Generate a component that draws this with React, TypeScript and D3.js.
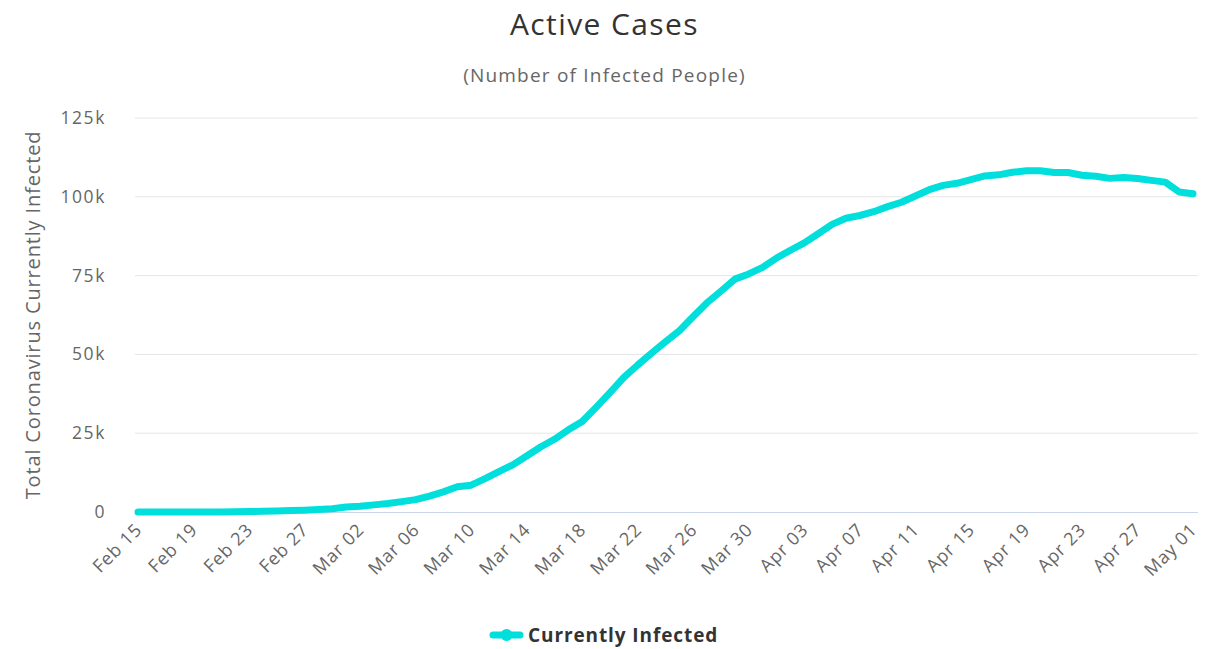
import React from "react";
import * as d3 from "d3";

const startDate = "2020-02-15";
const activeCases = [
  3, 3, 3, 3, 3, 3, 17, 76, 150, 221, 311, 438, 593, 821, 1049,
  1577, 1835, 2263, 2706, 3296, 3916, 5061, 6387, 7985, 8514, 10590, 12839, 14955, 17750, 20603,
  23073, 26062, 28710, 33190, 37860, 42681, 46638, 50418, 54030, 57521, 62013, 66414, 70065, 73880,
  75528, 77635, 80572, 83049, 85388, 88274, 91246, 93187, 94067, 95262, 96877, 98273, 100269,
  102253, 103616, 104291, 105418, 106607, 106962, 107771, 108257, 108237, 107709, 107699, 106848,
  106527, 105847, 106103, 105813, 105205, 104657, 101551, 100943,
];
const yTicks = [0, 25000, 50000, 75000, 100000, 125000];
const tickEveryDays = 4;

const W = 1211;
const H = 649;
const M = { left: 135, right: 1198, top: 118, bottom: 512 };
const FONT = "'Open Sans', 'DejaVu Sans', sans-serif";
const LINE = "#00dfdc";

export default function App() {
  React.useEffect(() => {
    document.body.style.margin = "0";
  }, []);
  const parse = d3.utcParse("%Y-%m-%d");
  const d0 = parse(startDate) as Date;
  const dates = activeCases.map((_, i) => d3.utcDay.offset(d0, i));
  const x = d3
    .scaleUtc()
    .domain([dates[0], dates[dates.length - 1]])
    .range([M.left + 3, M.right - 5]);
  const y = d3.scaleLinear().domain([0, 125000]).range([M.bottom, M.top]);
  const line = d3
    .line<number>()
    .x((_, i) => x(dates[i]))
    .y((v) => y(v));
  const xTickDates = dates.filter((_, i) => i % tickEveryDays === 0);
  const fmt = d3.utcFormat("%b %d");
  const yFmt = (v: number) => (v === 0 ? "0" : `${v / 1000}k`);

  return (
    <svg width={W} height={H} style={{ display: "block", background: "#fff", fontFamily: FONT }}>
      <text x={W / 2 - 1} y={35} textAnchor="middle" fontSize={30} letterSpacing={1.4} fill="#333">
        Active Cases
      </text>
      <text x={W / 2 - 1} y={82} textAnchor="middle" fontSize={19} letterSpacing={1.2} fill="#666">
        (Number of Infected People)
      </text>
      {yTicks.map((t) => (
        <g key={t}>
          {t !== 0 && (
            <line x1={M.left} x2={M.right} y1={y(t)} y2={y(t)} stroke="#e6e6e6" strokeWidth={1} />
          )}
          <text x={106} y={y(t) + 6} textAnchor="end" fontSize={17.5} letterSpacing={1.6} fill="#666">
            {yFmt(t)}
          </text>
        </g>
      ))}
      <line x1={M.left} x2={M.right} y1={M.bottom + 0.5} y2={M.bottom + 0.5} stroke="#ccd6eb" strokeWidth={1} />
      <text
        transform={`translate(40, ${(M.top + M.bottom) / 2}) rotate(-90)`}
        textAnchor="middle"
        fontSize={20}
        letterSpacing={0.85}
        fill="#666"
      >
        Total Coronavirus Currently Infected
      </text>
      {xTickDates.map((d, i) => (
        <text
          key={i}
          transform={`translate(${x(d) + 5}, ${M.bottom + 19}) rotate(-45)`}
          textAnchor="end"
          fontSize={18}
          letterSpacing={0.8}
          fill="#666"
        >
          {fmt(d)}
        </text>
      ))}
      <path
        d={line(activeCases) || ""}
        fill="none"
        stroke={LINE}
        strokeWidth={7}
        strokeLinejoin="round"
        strokeLinecap="round"
      />
      <g transform="translate(493, 635)">
        <line x1={0} x2={27} y1={0} y2={0} stroke={LINE} strokeWidth={7} strokeLinecap="round" />
        <circle cx={13.5} cy={0} r={6} fill={LINE} />
        <text x={35} y={7} fontSize={19} fontWeight="bold" letterSpacing={0.9} fill="#333">
          Currently Infected
        </text>
      </g>
    </svg>
  );
}
